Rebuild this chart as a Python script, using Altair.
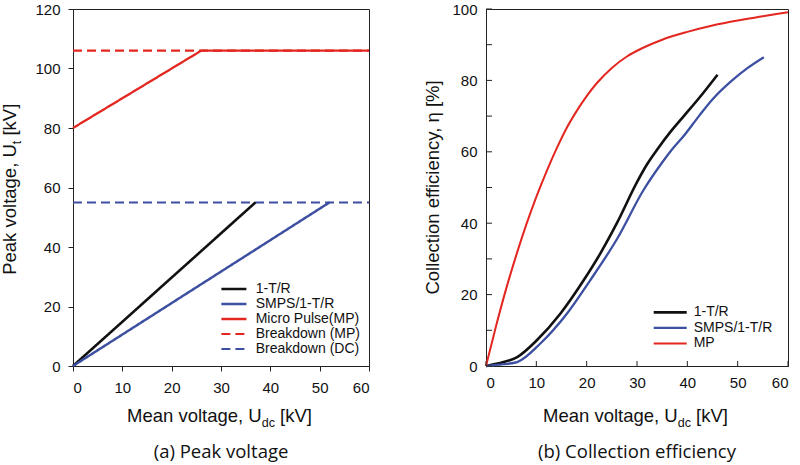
import altair as alt
import pandas as pd

# ---------------- panel (a): peak voltage ----------------
peak_series = ["1-T/R", "SMPS/1-T/R", "Micro Pulse(MP)", "Breakdown (MP)", "Breakdown (DC)"]
peak_colors = ["#111111", "#3d4fa1", "#e3261f", "#e3261f", "#3d4fa1"]
peak_dashes = [[1, 0], [1, 0], [1, 0], [9, 5], [9, 5]]
peak_widths = [2.6, 2, 2, 2, 2]

tr_udc = [0, 37]
tr_peak = [0, 55]
smps_udc = [0, 52]
smps_peak = [0, 55]
mp_udc = [0, 26, 60]
mp_peak = [80, 106, 106]
bd_mp_udc = [0, 60]
bd_mp_peak = [106, 106]
bd_dc_udc = [0, 60]
bd_dc_peak = [55, 55]

# ---------------- panel (b): collection efficiency ----------------
eff_series = ["1-T/R", "SMPS/1-T/R", "MP"]
eff_colors = ["#111111", "#3d4fa1", "#e3261f"]
eff_widths = [2.6, 2, 2]

tr_eff_udc = [0, 3.5, 6.2, 10.1, 14.8, 19.4, 22.7, 26.0, 30.0, 32.0, 34.2, 36.6, 39.3, 42.3, 46.0]
tr_eff = [0, 1.1, 2.5, 7.2, 14.7, 24.0, 31.5, 40.0, 51.5, 56.5, 61.0, 65.5, 70.0, 75.0, 81.6]
smps_eff_udc = [0, 3.5, 6.2, 10.8, 16.1, 20.7, 26.0, 31.3, 35.0, 36.6, 39.6, 42.3, 45.2, 48.9, 52.0, 55.2]
smps_eff = [0, 0.5, 1.1, 6.3, 14.7, 24.0, 35.5, 49.3, 57.0, 60.0, 65.0, 70.0, 75.0, 80.0, 83.5, 86.5]
mp_eff_udc = [0, 2, 4, 6, 8, 10, 12, 14, 16, 18, 20, 22, 25, 28, 31, 35, 40, 45, 50, 55, 60]
mp_eff = [0, 11.2, 21.6, 31.0, 39.6, 47.4, 54.4, 60.8, 66.6, 71.4, 75.6, 79.2, 83.5, 86.7,
          89.0, 91.4, 93.6, 95.4, 96.8, 97.95, 99.1]

FONT = "Liberation Sans"
CAPTION_FONT = "Open Sans"
INK = "#111111"
H = 357
W_A = 296
W_B = 302


def frame(names, xs, ys):
    rows = []
    for name, xv, yv in zip(names, xs, ys):
        for a, b in zip(xv, yv):
            rows.append({"series": name, "udc": a, "val": b})
    return pd.DataFrame(rows)


def text(t, x, y, size=18.5, angle=None, align="left", font=FONT, baseline="alphabetic"):
    kw = dict(align=align, baseline=baseline, font=font, fontSize=size, color=INK)
    if angle is not None:
        kw["angle"] = angle
    return alt.Chart(pd.DataFrame({"t": [t]})).mark_text(**kw).encode(
        x=alt.value(x), y=alt.value(y), text="t:N"
    )


def enc(names, colors, widths, dashes=None):
    e = dict(
        color=alt.Color("series:N", scale=alt.Scale(domain=names, range=colors), legend=None),
        strokeWidth=alt.StrokeWidth("series:N", scale=alt.Scale(domain=names, range=widths), legend=None),
    )
    if dashes is not None:
        e["strokeDash"] = alt.StrokeDash("series:N", scale=alt.Scale(domain=names, range=dashes), legend=None)
    return e


# ---- panel (a) ----
peak_df = frame(
    peak_series,
    [tr_udc, smps_udc, mp_udc, bd_mp_udc, bd_dc_udc],
    [tr_peak, smps_peak, mp_peak, bd_mp_peak, bd_dc_peak],
)
xa = alt.X("udc:Q", scale=alt.Scale(domain=[0, 60], nice=False),
           axis=alt.Axis(values=list(range(0, 61, 10)), title=None, tickSize=5, labelPadding=9))
ya = alt.Y("val:Q", scale=alt.Scale(domain=[0, 120], nice=False),
           axis=alt.Axis(values=list(range(0, 121, 20)), title=None, tickSize=5, labelPadding=8))
a_enc = enc(peak_series, peak_colors, peak_widths, peak_dashes)
base_a = alt.Chart(peak_df).mark_line().encode(x=xa, y=ya, **a_enc)
dashed_a = base_a.transform_filter(alt.FieldOneOfPredicate(field="series", oneOf=peak_series[3:]))
solid_a = base_a.transform_filter(alt.FieldOneOfPredicate(field="series", oneOf=peak_series[:3]))

titles_a = [
    text("Mean voltage, U", 54, H + 56),
    text("dc", 188.7, H + 60.5, size=12.5),
    text("[kV]", 207, H + 56),
    text("Peak voltage, U", -57, 265.8, angle=270),
    text("t", -52.5, 135.2, size=12.5, angle=270),
    text("[kV]", -57, 126.6, angle=270),
    text("(a) Peak voltage", W_A / 2, H + 92, align="center", font=CAPTION_FONT),
]

leg_a = pd.DataFrame({"series": peak_series, "row": list(range(len(peak_series)))})
leg_ya = alt.Y("row:Q", scale=alt.Scale(domain=[0, 4], range=[280, 340], nice=False, zero=False), axis=None)
leg_rule_a = alt.Chart(leg_a).mark_rule().encode(
    x=alt.value(148.4), x2=alt.value(173.4), y=leg_ya, **a_enc)
leg_text_a = alt.Chart(leg_a).mark_text(align="left", baseline="middle", font=FONT, fontSize=14, color=INK).encode(
    x=alt.value(182.7), y=leg_ya, text="series:N")

panel_a = alt.layer(
    alt.layer(dashed_a, solid_a, *titles_a),
    leg_rule_a, leg_text_a,
).resolve_scale(y="independent").properties(width=W_A, height=H)

# ---- panel (b) ----
eff_df = frame(
    eff_series,
    [tr_eff_udc, smps_eff_udc, mp_eff_udc],
    [tr_eff, smps_eff, mp_eff],
)
xb = alt.X("udc:Q", scale=alt.Scale(domain=[0, 60], nice=False),
           axis=alt.Axis(values=list(range(0, 61, 10)), title=None, ticks=False, labelPadding=9))
yb = alt.Y("val:Q", scale=alt.Scale(domain=[0, 100], nice=False),
           axis=alt.Axis(values=list(range(0, 101, 20)), title=None, ticks=False, labelPadding=9))
b_enc = enc(eff_series, eff_colors, eff_widths)
lines_b = alt.Chart(eff_df).mark_line(interpolate="monotone").encode(x=xb, y=yb, **b_enc)

# inward tick marks
y_tick_vals = list(range(0, 101, 10))
x_tick_vals = list(range(0, 61, 10))
yticks_b = alt.Chart(pd.DataFrame({"val": y_tick_vals})).mark_rule(color="#222", strokeWidth=1).encode(
    y=alt.Y("val:Q"), x=alt.value(0), x2=alt.value(6))
xticks_b = alt.Chart(pd.DataFrame({"udc": x_tick_vals})).mark_rule(color="#222", strokeWidth=1).encode(
    x=alt.X("udc:Q"), y=alt.value(H), y2=alt.value(H - 5))

titles_b = [
    text("Mean voltage, U", 57, H + 56),
    text("dc", 191.7, H + 60.5, size=12.5),
    text("[kV]", 210, H + 56),
    text("Collection efficiency, \u03b7 [%]", -47, H / 2, angle=270, align="center"),
    text("(b) Collection efficiency", W_B / 2, H + 92, align="center", font=CAPTION_FONT),
]

leg_b = pd.DataFrame({"series": eff_series, "row": list(range(len(eff_series)))})
leg_yb = alt.Y("row:Q", scale=alt.Scale(domain=[0, 2], range=[303.4, 334.4], nice=False, zero=False), axis=None)
leg_rule_b = alt.Chart(leg_b).mark_rule().encode(
    x=alt.value(167.7), x2=alt.value(200.7), y=leg_yb, **b_enc)
leg_text_b = alt.Chart(leg_b).mark_text(align="left", baseline="middle", font=FONT, fontSize=14, color=INK).encode(
    x=alt.value(207.7), y=leg_yb, text="series:N")

panel_b = alt.layer(
    alt.layer(lines_b, yticks_b, xticks_b, *titles_b),
    leg_rule_b, leg_text_b,
).resolve_scale(y="independent").properties(width=W_B, height=H)

chart = alt.hconcat(panel_a, panel_b, spacing=48).resolve_scale(
    color="independent", strokeWidth="independent", strokeDash="independent"
).properties(
    padding={"left": 0, "top": 1, "right": 0, "bottom": 0},
    background="white",
).configure_view(
    stroke="#222", strokeWidth=1
).configure_axis(
    grid=False, domainColor="#222", tickColor="#222", domainWidth=1,
    labelFont=FONT, labelFontSize=15, labelColor=INK,
)

chart.save("out.html", embed_options={"renderer": "svg", "actions": False})
